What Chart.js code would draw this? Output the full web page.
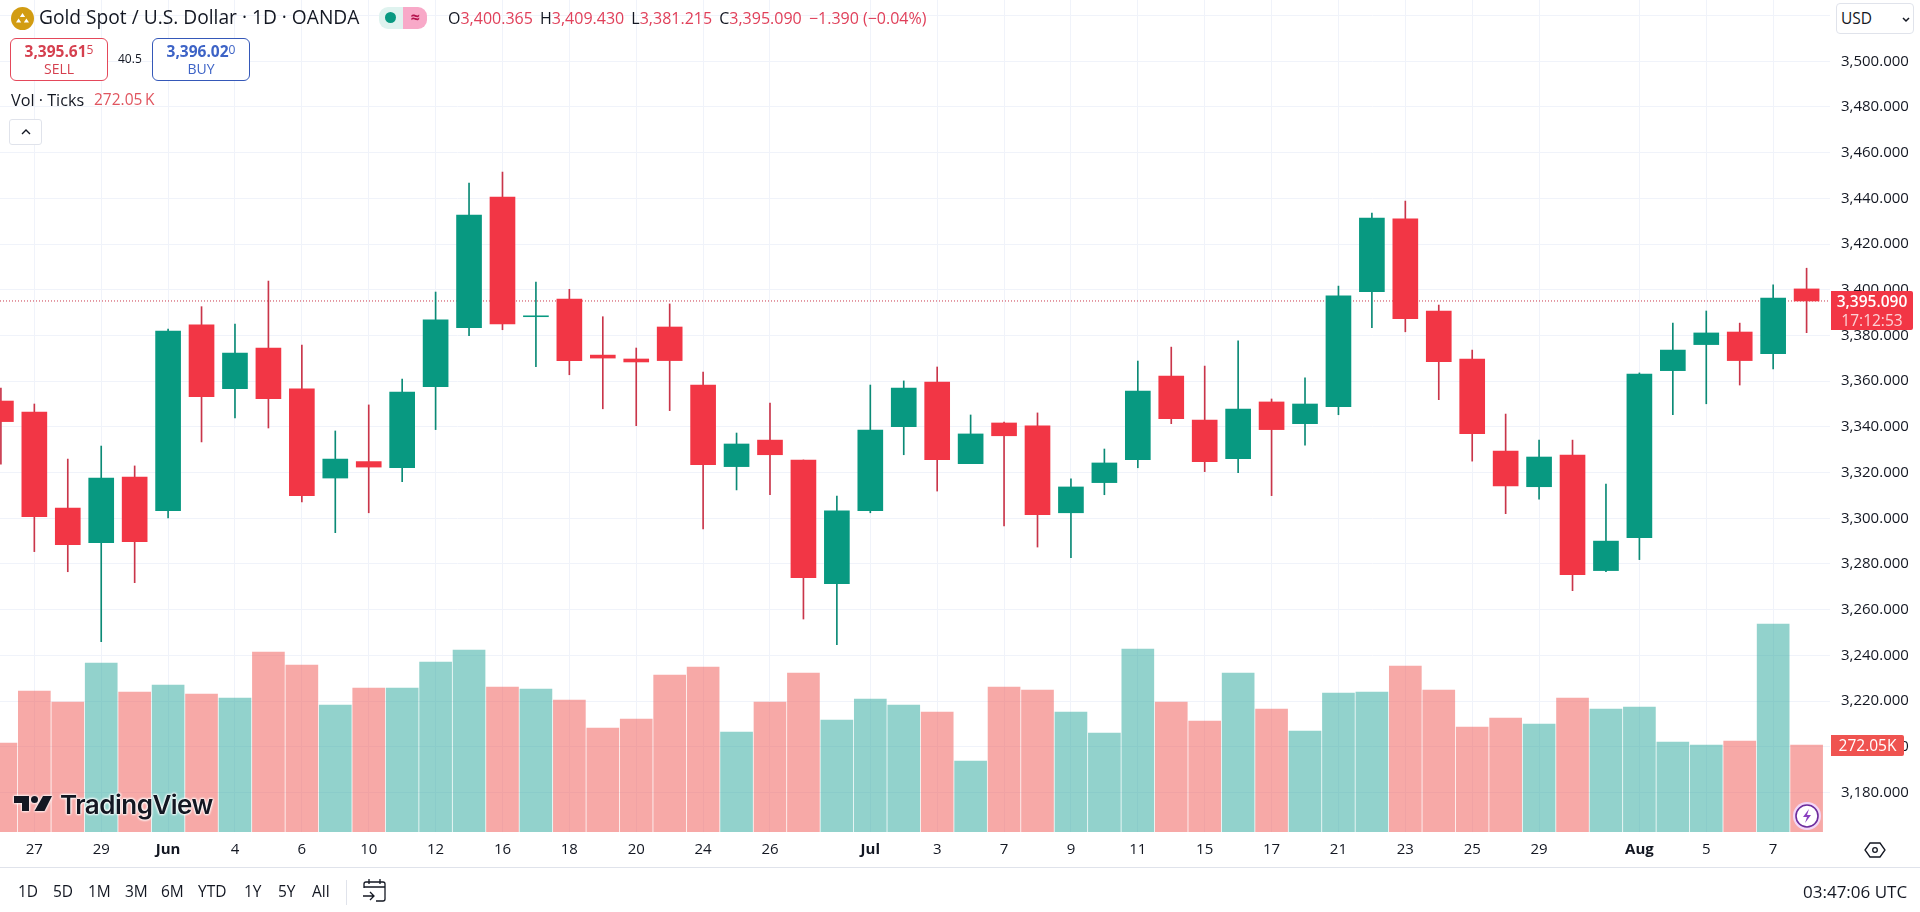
<!DOCTYPE html>
<html><head><meta charset="utf-8">
<script src="https://cdn.jsdelivr.net/npm/chart.js@4/dist/chart.umd.min.js"></script>
<style>
html,body{margin:0;padding:0;background:#fff;overflow:hidden}
body{width:1920px;height:912px;position:relative;font-family:"Open Sans",sans-serif;color:#131722}
canvas{position:absolute;left:0;top:0}
.a{position:absolute;white-space:nowrap;line-height:1}
.r{color:#e0405a}
#ohlc span.g{margin-left:3px}
.box{position:absolute;box-sizing:border-box;border:1px solid;border-radius:6px;background:#fff;text-align:center}
.range span{position:absolute;top:0;font-size:15.500px}
sup{font-size:.78em;line-height:0;vertical-align:baseline;position:relative;top:-3px;font-weight:400}
</style></head><body>
<canvas id="c" width="1920" height="912"></canvas>

<div class="a" style="left:11px;top:7px;width:23px;height:23px;border-radius:50%;background:#d29c12"></div>
<svg class="a" style="left:11px;top:7px" width="23" height="23"><path d="M11.5 6l2.6 4h-5.2zM7.6 11.5l2.6 4H5zM15.4 11.5l2.6 4h-5.2z" fill="#fff"/></svg>
<div class="a" id="title" style="left:39px;top:7px;font-size:19.200px">Gold Spot / U.S. Dollar · 1D · OANDA</div>
<div class="a" style="left:379px;top:7px;width:24px;height:22px;background:#dff3ef;border-radius:9px 0 0 9px"></div>
<div class="a" style="left:385px;top:12px;width:11px;height:11px;border-radius:50%;background:#089981"></div>
<div class="a" style="left:403px;top:7px;width:24px;height:22px;background:#f8a9c8;border-radius:0 9px 9px 0;color:#b4134e;font-size:16px;line-height:21px;text-align:center;font-weight:700">≈</div>
<div class="a" id="ohlc" style="left:448px;top:10px;font-size:16px">O<span class="r">3,400.365</span><span class="g"> H</span><span class="r">3,409.430</span><span class="g"> L</span><span class="r">3,381.215</span><span class="g"> C</span><span class="r">3,395.090</span><span class="g r"> −1.390 (−0.04%)</span></div>

<div class="box" style="left:10px;top:38px;width:98px;height:43px;border-color:#e4485a;color:#d5404f">
  <div class="a" style="left:0;right:0;top:5px;font-size:15.500px;font-weight:700">3,395.61<sup>5</sup></div>
  <div class="a" style="left:0;right:0;top:23px;font-size:14px">SELL</div></div>
<div class="a" style="left:118px;top:53px;font-size:12px">40.5</div>
<div class="box" style="left:152px;top:38px;width:98px;height:43px;border-color:#3558b8;color:#3d63c6">
  <div class="a" style="left:0;right:0;top:5px;font-size:15.500px;font-weight:700">3,396.02<sup>0</sup></div>
  <div class="a" style="left:0;right:0;top:23px;font-size:14px">BUY</div></div>
<div class="a" style="left:11px;top:92px;font-size:16.200px">Vol · Ticks</div>
<div class="a" style="left:94px;top:92px;font-size:15.500px;color:#e0555f">272.05&#8201;K</div>
<div class="box" style="left:9px;top:119px;width:33px;height:26px;border-color:#e0e3eb;border-radius:3px">
  <svg width="14" height="10" style="margin-top:7px"><path d="M3 7l4-4 4 4" fill="none" stroke="#131722" stroke-width="1.4"/></svg></div>

<div class="box" style="left:1836px;top:3px;width:78px;height:31px;border-color:#e0e3eb;border-radius:4px">
  <div class="a" style="left:4px;top:7px;font-size:15.500px">USD</div>
  <svg class="a" width="10" height="8" style="left:64px;top:12px"><path d="M2 2l3 3 3-3" fill="none" stroke="#131722" stroke-width="1.5"/></svg></div>

<div class="a" style="left:1831px;top:291px;width:82px;height:39px;background:#f23645;border-radius:0 2px 2px 0;color:#fff;text-align:center;font-size:15.500px">
  <div style="margin-top:3px;font-weight:600">3,395.090</div>
  <div style="margin-top:3px;opacity:.78">17:12:53</div></div>
<div class="a" style="left:1831px;top:735px;width:73px;height:21px;background:#ef5350;border-radius:0 2px 2px 0;color:#fff;text-align:center;font-size:15.500px;line-height:21px">272.05K</div>

<svg class="a" style="left:13px;top:794px;filter:drop-shadow(0 0 1px #fff) drop-shadow(0 0 1px #fff)" width="40" height="24"><path d="M1 2h15v15H9V9H1z" fill="#131722"/><circle cx="21.500" cy="5.500" r="3.500" fill="#131722"/><path d="M30 2h9l-7.500 15H21.500z" fill="#131722"/></svg>
<div class="a" id="brand" style="left:60px;top:792px;font-family:Inter,sans-serif;font-size:26px;font-weight:600;letter-spacing:-.5px;color:#131722;text-shadow:0 0 2px #fff,0 0 2px #fff,0 0 3px #fff,0 0 3px #fff">TradingView</div>

<div class="a" style="left:1793px;top:802px;width:28px;height:28px;border-radius:50%;background:#f3d7f7;box-sizing:border-box;padding:2px">
  <svg width="24" height="24"><circle cx="12" cy="12" r="11" fill="#fff" stroke="#6c2c9c" stroke-width="1.6"/><path d="M14 5l-6 8h4l-2 6 6-8h-4z" fill="#8a3fc0"/></svg></div>

<svg class="a" style="left:1864px;top:841px" width="22" height="18"><path d="M6 2h10l5 7-5 7H6L1 9z" fill="none" stroke="#131722" stroke-width="1.3"/><circle cx="11" cy="9" r="2.300" fill="none" stroke="#131722" stroke-width="1.3"/></svg>

<div class="a" style="left:0;top:867px;width:1920px;height:1px;background:#e0e3eb"></div>
<div class="range a" style="left:0;top:884px;width:340px;height:20px">
  <span style="left:18px">1D</span><span style="left:53px">5D</span><span style="left:88px">1M</span><span style="left:125px">3M</span><span style="left:161px">6M</span><span style="left:198px">YTD</span><span style="left:244px">1Y</span><span style="left:278px">5Y</span><span style="left:312px">All</span></div>
<div class="a" style="left:346px;top:880px;width:1px;height:25px;background:#e0e3eb"></div>
<svg class="a" style="left:362px;top:878px" width="26" height="25"><path d="M2 10V6a2 2 0 0 1 2-2h17a2 2 0 0 1 2 2v15a2 2 0 0 1-2 2h-7M2 9h21M7 1v5M18 1v5M1 18h11M8 14l4 4-4 4" fill="none" stroke="#131722" stroke-width="1.3"/></svg>
<div class="a" id="clock" style="left:1803px;top:883px;font-size:17px">03:47:06 UTC</div>

<script>
const opens=[3351.3,3346.5,3304.5,3289.3,3318.0,3303.3,3384.6,3356.7,3374.5,3356.6,3317.6,3324.8,3322.1,3357.6,3383.4,3440.6,3388.2,3395.9,3371.4,3369.7,3383.7,3358.3,3322.6,3334.2,3325.5,3271.4,3303.3,3340.1,3359.6,3323.9,3341.7,3340.4,3302.4,3315.6,3325.6,3362.2,3343.0,3326.1,3350.9,3341.4,3348.8,3399.2,3431.0,3390.7,3369.7,3329.4,3313.8,3327.7,3277.1,3291.5,3364.6,3376.0,3381.5,3372.0,3400.365];
const highs=[3357.0,3350.0,3325.9,3331.6,3322.9,3382.8,3392.6,3385.0,3403.8,3375.8,3338.2,3349.6,3360.9,3399.0,3446.7,3451.5,3403.4,3400.2,3388.2,3374.5,3393.8,3364.0,3337.3,3350.4,3325.5,3309.7,3358.3,3360.1,3366.2,3345.2,3342.1,3346.1,3317.2,3330.3,3368.8,3374.9,3366.6,3377.6,3352.2,3361.5,3401.6,3433.6,3438.8,3393.3,3373.6,3345.6,3334.2,3334.2,3315.0,3363.6,3385.4,3390.7,3385.4,3402.1,3409.43];
const lows=[3323.7,3285.4,3276.6,3246.0,3271.8,3300.2,3333.4,3343.9,3339.5,3307.1,3293.7,3302.4,3316.0,3338.8,3379.9,3382.5,3366.3,3362.8,3347.9,3340.5,3347.1,3295.3,3312.4,3310.3,3255.9,3244.7,3302.4,3327.8,3311.9,3323.9,3296.6,3287.4,3282.7,3310.3,3322.1,3341.4,3320.4,3319.9,3309.9,3332.0,3345.3,3383.4,3381.6,3351.9,3325.0,3302.0,3308.4,3268.3,3276.6,3281.9,3345.3,3350.1,3358.3,3365.3,3381.215];
const closes=[3342.3,3300.7,3288.4,3317.6,3289.7,3381.9,3353.2,3372.3,3352.3,3309.9,3325.9,3322.4,3355.2,3386.8,3432.7,3385.1,3388.6,3369.0,3370.1,3368.4,3369.0,3323.4,3332.5,3327.8,3274.0,3303.2,3338.6,3357.0,3325.6,3336.9,3336.1,3301.6,3313.7,3324.2,3355.7,3343.6,3324.8,3347.8,3338.8,3350.0,3397.3,3431.4,3387.3,3368.5,3337.0,3314.2,3326.8,3275.3,3290.0,3363.1,3373.6,3381.1,3369.0,3396.4,3395.09];
const volumes=[278.3,440.9,406.5,528.5,437.8,459.7,431.6,419.0,562.9,522.2,397.2,450.3,450.3,531.6,569.2,453.4,447.2,412.8,325.2,353.4,491.0,516.0,312.7,406.5,497.2,350.2,415.9,397.2,375.3,222.0,453.4,444.1,375.3,309.6,572.3,406.5,347.1,497.2,384.6,315.8,434.7,437.8,519.1,444.1,328.4,356.5,337.7,419.0,384.6,390.9,281.4,272.05,284.6,650.5,272.05];
const xTickIndexes=[1,3,5,7,9,11,13,15,17,19,21,23,26,28,30,32,34,36,38,40,42,44,46,49,51,53];
const xTickLabels=['27','29','Jun','4','6','10','12','16','18','20','24','26','Jul','3','7','9','11','15','17','21','23','25','29','Aug','5','7'];
const monthLabels=['Jun','Jul','Aug'];
const yTicks=[3180,3200,3220,3240,3260,3280,3300,3320,3340,3360,3380,3400,3420,3440,3460,3480,3500,3520];

const UP='#089981',DOWN='#F23645',VUP='rgba(38,166,154,.5)',VDOWN='rgba(239,83,80,.5)';
const WICK_UP='#0b8a76',WICK_DOWN='#c9354a';
const FONT='"Open Sans",sans-serif';
const isUp=i=>closes[i]>=opens[i];
const idx=opens.map((_,i)=>i);
const xMin=-0.027,xMax=54.7;
const noPad=s=>{s.paddingLeft=s.paddingRight=s.paddingTop=s.paddingBottom=0};

new Chart(document.getElementById('c'),{
  data:{datasets:[
    {type:'bar',order:5,grouped:false,yAxisID:'v',barThickness:32,borderWidth:0,
     data:idx.map(i=>({x:i,y:volumes[i]})),backgroundColor:idx.map(i=>isUp(i)?VUP:VDOWN)},
    {type:'line',order:4,yAxisID:'y',borderColor:'#c9354a',borderWidth:1,borderDash:[1,2],pointRadius:0,
     data:[{x:xMin,y:closes[closes.length-1]},{x:xMax,y:closes[closes.length-1]}]},
    {type:'bar',order:3,grouped:false,yAxisID:'y',barThickness:1,borderWidth:0,
     data:idx.map(i=>({x:i,y:[lows[i],highs[i]]})),backgroundColor:idx.map(i=>isUp(i)?WICK_UP:WICK_DOWN)},
    {type:'bar',order:2,grouped:false,yAxisID:'y',barThickness:25,borderWidth:0,
     data:idx.map(i=>({x:i,y:[Math.min(opens[i],closes[i]),Math.max(opens[i],closes[i])]})),backgroundColor:idx.map(i=>isUp(i)?UP:DOWN)}
  ]},
  options:{
    responsive:false,animation:false,devicePixelRatio:1,
    layout:{padding:0},
    plugins:{legend:{display:false},tooltip:{enabled:false}},
    scales:{
      x:{type:'linear',offset:false,min:xMin,max:xMax,
        afterBuildTicks:s=>{s.ticks=xTickIndexes.map(v=>({value:v}))},
        afterFit:s=>{s.height=80;noPad(s)},
        border:{display:false},
        grid:{offset:false,color:'#f0f3fa',drawTicks:false},
        ticks:{autoSkip:false,maxRotation:0,padding:9,color:'#131722',
          callback:v=>xTickLabels[xTickIndexes.indexOf(v)],
          font:c=>({family:FONT,size:15,weight:c.tick&&monthLabels.includes(c.tick.label)?'700':'400'})}},
      y:{position:'right',min:3162.7,max:3526.8,
        afterBuildTicks:s=>{s.ticks=yTicks.map(v=>({value:v}))},
        afterFit:s=>{s.width=90;noPad(s)},
        border:{display:false},
        grid:{color:'#f0f3fa',drawTicks:false},
        ticks:{autoSkip:false,padding:11,color:'#131722',font:{family:FONT,size:15},
          callback:v=>v===3520?'':v.toLocaleString('en-US',{minimumFractionDigits:3})}},
      v:{display:false,position:'right',min:0,max:2601.7}
    }
  }
});
</script>
</body></html>
